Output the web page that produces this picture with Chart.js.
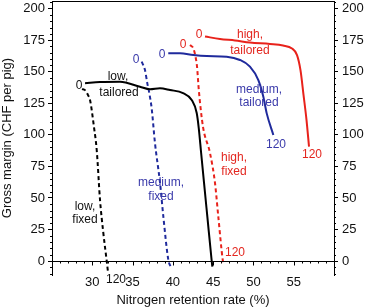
<!DOCTYPE html>
<html>
<head>
<meta charset="utf-8">
<script src="https://cdn.jsdelivr.net/npm/chart.js@4.4.1/dist/chart.umd.min.js"></script>
<style>
  html, body { margin: 0; padding: 0; background: #fff; }
  #wrap { width: 365px; height: 308px; }
</style>
</head>
<body>
<div id="wrap"><canvas id="nrChart"></canvas></div>
<script>
// ── data (x = N retention %, y = CHF per pig) ──
const lowFixed = [
  [28.72, 136.2], [29.10, 135.4], [29.47, 131.5], [29.72, 127.6], [30.21, 106.2],
  [30.55, 88.0], [30.96, 48.4], [31.37, 22.3], [31.79, 0.1], [31.95, -8.6],
];
const lowTailored = [
  [29.10, 140.8], [30.96, 141.8], [33.44, 142.1], [35.92, 138.1], [37.16, 136.1],
  [38.40, 136.9], [39.65, 135.5], [41.26, 133.1], [42.34, 127.6], [42.96, 117.3],
  [43.22, 105.0], [43.51, 85.6], [43.87, 61.9], [44.28, 35.2], [44.82, 0.1], [44.90, -4.4],
];
const mediumFixed = [
  [36.13, 157.9], [36.54, 151.3], [36.83, 140.8], [37.08, 132.9], [37.37, 121.0],
  [37.78, 93.5], [38.41, 61.9], [38.82, 35.2], [39.44, 0.9], [39.73, -4.4],
];
const mediumTailored = [
  [39.43, 164.6], [40.89, 164.6], [42.54, 163.2], [44.20, 162.4], [46.68, 161.9],
  [48.33, 159.3], [49.57, 154.0], [50.61, 143.4], [51.23, 130.2], [51.65, 117.0], [52.47, 99.9],
];
const highFixed = [
  [42.13, 171.1], [42.54, 168.5], [42.81, 161.9], [43.00, 154.0], [43.22, 135.5],
  [43.74, 106.4], [44.61, 85.6], [45.23, 61.9], [45.64, 35.2], [46.19, 0.9], [46.26, -1.5],
];
const highTailored = [
  [43.99, 177.9], [45.85, 175.9], [47.71, 174.7], [49.57, 173.1], [52.05, 171.9],
  [53.67, 170.7], [54.79, 168.4], [55.41, 163.2], [55.84, 151.3], [56.22, 131.5],
  [56.59, 111.7], [56.90, 90.6],
];

const xTicks = [30, 35, 40, 45, 50, 55];
const yTicks = [0, 25, 50, 75, 100, 125, 150, 175, 200];

// curve labels: [text, x, y, colour key]
const curveLabels = [
  ['low,', 33.19, 145.8, 'k'], ['tailored', 33.32, 133.1, 'k'],
  ['low,', 29.10, 42.9, 'k'], ['fixed', 29.10, 32.5, 'k'],
  ['medium,', 38.53, 61.9, 'b'], ['fixed', 38.53, 50.8, 'b'],
  ['medium,', 50.69, 135.5, 'b'], ['tailored', 50.69, 125.2, 'b'],
  ['high,', 49.57, 179.1, 'r'], ['tailored', 49.57, 166.4, 'r'],
  ['high,', 47.59, 81.6, 'r'], ['fixed', 47.59, 70.5, 'r'],
  ['0', 28.35, 138.7, 'k'], ['0', 35.43, 159.2, 'b'], ['0', 38.65, 163.2, 'b'],
  ['0', 41.26, 171.1, 'r'], ['0', 43.24, 179.1, 'r'],
  ['120', 32.94, -15.0, 'k'], ['120', 52.80, 91.9, 'b'],
  ['120', 57.27, 84.0, 'r'], ['120', 47.71, 6.4, 'r'],
];

const LINE = { k: '#000000', b: '#1f2a9c', r: '#e8221b' };
const TEXT = { k: '#111111', b: '#3a3aaa', r: '#e3261f' };
const FONT = '"Liberation Sans", Arial, Helvetica, sans-serif';

const pts = arr => arr.map(([x, y]) => ({ x, y }));
const series = (data, col, dashed) => ({
  data: pts(data),
  borderColor: LINE[col],
  borderWidth: 2,
  borderDash: dashed ? [4, 3] : [],
  pointRadius: 0,
  showLine: true,
  cubicInterpolationMode: 'monotone',
  fill: false,
});

// frame pieces the figure has but chart.js doesn't: top border, x axis at y=0, minor ticks, text
const framePlugin = {
  id: 'framePlugin',
  afterDraw(chart) {
    const { ctx, chartArea: a, scales: { x, y } } = chart;
    const seg = (x1, y1, x2, y2) => { ctx.beginPath(); ctx.moveTo(x1, y1); ctx.lineTo(x2, y2); ctx.stroke(); };
    ctx.save();
    ctx.strokeStyle = '#000';
    ctx.lineWidth = 1;
    seg(a.left, a.top + 0.5, a.right, a.top + 0.5);

    const y0 = Math.round(y.getPixelForValue(0)) + 0.5;
    seg(a.left, y0, a.right, y0);
    for (let v = 26; v <= 59; v++) {
      const px = Math.round(x.getPixelForValue(v)) + 0.5;
      seg(px, y0, px, y0 + (v % 5 === 0 ? 4 : 2));
    }
    for (let v = -10; v <= 205; v += 5) {
      if (v % 25 === 0) continue;
      const py = Math.round(y.getPixelForValue(v)) + 0.5;
      seg(a.left - 2, py, a.left, py);
      seg(a.right, py, a.right + 2, py);
    }

    ctx.font = '12px ' + FONT;
    ctx.textAlign = 'center';
    ctx.textBaseline = 'middle';
    curveLabels.forEach(([t, vx, vy, c]) => {
      ctx.fillStyle = TEXT[c];
      ctx.fillText(t, x.getPixelForValue(vx), y.getPixelForValue(vy));
    });
    ctx.restore();
  },
};

Chart.defaults.font.family = FONT;
Chart.defaults.font.size = 13;
Chart.defaults.color = '#111';

const yAxis = (pos, w) => ({
  type: 'linear',
  position: pos,
  min: -11,
  max: 206,
  afterBuildTicks: s => { s.ticks = yTicks.map(value => ({ value })); },
  afterFit: s => { s.width = w; s.paddingTop = 0; s.paddingBottom = 0; },
  grid: { drawOnChartArea: false, tickLength: 4, color: '#000' },
  border: { display: true, color: '#000', width: 1 },
  ticks: { padding: pos === 'left' ? 3 : 4, color: '#111' },
});

new Chart(document.getElementById('nrChart'), {
  type: 'scatter',
  data: {
    datasets: [
      series(lowFixed, 'k', true),
      series(lowTailored, 'k', false),
      series(mediumFixed, 'b', true),
      series(mediumTailored, 'b', false),
      series(highFixed, 'r', true),
      series(highTailored, 'r', false),
    ],
  },
  options: {
    responsive: true,
    maintainAspectRatio: false,
    animation: false,
    layout: { padding: { top: 1, left: 0, right: 0, bottom: 0 } },
    plugins: { legend: { display: false }, tooltip: { enabled: false } },
    scales: {
      x: {
        type: 'linear',
        min: 25,
        max: 60,
        afterBuildTicks: s => { s.ticks = xTicks.map(value => ({ value })); },
        afterFit: s => { s.height = 33; s.paddingLeft = 0; s.paddingRight = 0; },
        grid: { display: false, drawTicks: false },
        border: { display: false },
        ticks: { padding: 0, color: '#111' },
        title: { display: true, text: 'Nitrogen retention rate (%)', padding: { top: 0, bottom: 0 }, color: '#111' },
      },
      y: {
        ...yAxis('left', 52),
        title: { display: true, text: 'Gross margin (CHF per pig)', padding: { top: 0, bottom: 0 }, color: '#111' },
      },
      y2: yAxis('right', 31),
    },
  },
  plugins: [framePlugin],
});
</script>
</body>
</html>
